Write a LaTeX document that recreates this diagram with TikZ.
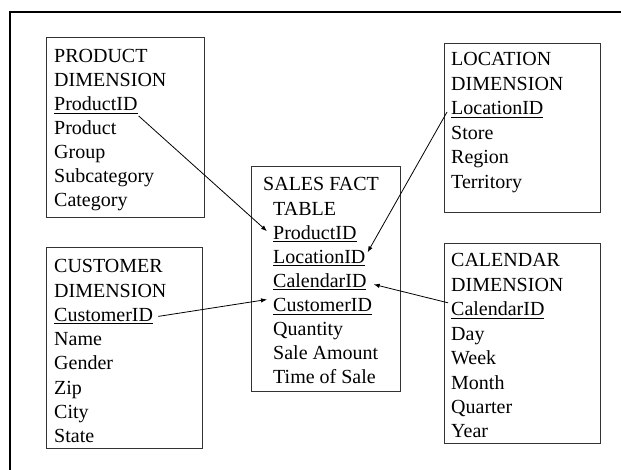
\documentclass[tikz,border=0pt]{standalone}
\usepackage{fontspec}
\setmainfont{Liberation Serif}
\usetikzlibrary{arrows.meta}
\newcommand\myul[1]{\setbox0\hbox{#1}\rlap{\rule[-3pt]{\wd0}{0.9pt}}\box0}
\tikzset{
  tbox/.style={draw=black!80, line width=1pt, inner sep=0pt},
  txt/.style={anchor=base west, inner sep=0pt, font=\fontsize{20}{24}\selectfont},
  link/.style={line width=0.8pt, -{Latex[length=6pt,width=4.5pt]}},
  frame/.style={line width=2pt}
}
\begin{document}
\begin{tikzpicture}[x=1pt,y=-1pt]
\useasboundingbox (0,0) rectangle (621,470);
\draw[frame] (10,470) -- (10,12.5) -- (621,12.5);
% boxes
\node[tbox, minimum width=158pt, minimum height=180pt] (prodbox) at (125,128) {};
\node[tbox, minimum width=156pt, minimum height=169pt] (locbox) at (522,128.5) {};
\node[tbox, minimum width=149pt, minimum height=224pt] (salesbox) at (325.5,279) {};
\node[tbox, minimum width=156pt, minimum height=200pt] (custbox) at (124,348) {};
\node[tbox, minimum width=156pt, minimum height=199pt] (calbox) at (522,343.5) {};
% product
\foreach \t [count=\i] in {PRODUCT,DIMENSION,\myul{ProductID},Product,Group,Subcategory,Category}
  \node[txt] (p\i) at (54,{63+24*(\i-1)}) {\t};
% location
\foreach \t [count=\i] in {LOCATION,DIMENSION,\myul{LocationID},Store,Region,Territory}
  \node[txt] (l\i) at (451,{66+24.5*(\i-1)}) {\t};
% sales
\node[txt] (s1) at (263,191) {SALES FACT};
\foreach \t [count=\i from 2] in {TABLE,\myul{ProductID},\myul{LocationID},\myul{CalendarID},\myul{CustomerID},Quantity,Sale Amount,Time of Sale}
  \node[txt] (s\i) at (273,{191+24.1*(\i-1)}) {\t};
% customer
\foreach \t [count=\i] in {CUSTOMER,DIMENSION,\myul{CustomerID},Name,Gender,Zip,City,State}
  \node[txt] (c\i) at (54,{273+24.2*(\i-1)}) {\t};
% calendar
\foreach \t [count=\i] in {CALENDAR,DIMENSION,\myul{CalendarID},Day,Week,Month,Quarter,Year}
  \node[txt] (k\i) at (451,{267+24.4*(\i-1)}) {\t};
% links
\draw[link] ([shift={(1,5)}]p3.base east) -- ([shift={(-6,-8)}]s3.base west);
\draw[link] ([shift={(-4,-3)}]l3.base west) -- ([shift={(2,-11)}]s4.base east);
\draw[link] ([shift={(-3,-13)}]k3.base west) -- ([shift={(7,-3)}]s5.base east);
\draw[link] ([shift={(5,-5)}]c3.base east) -- ([shift={(-6,-12)}]s6.base west);
\end{tikzpicture}
\end{document}
